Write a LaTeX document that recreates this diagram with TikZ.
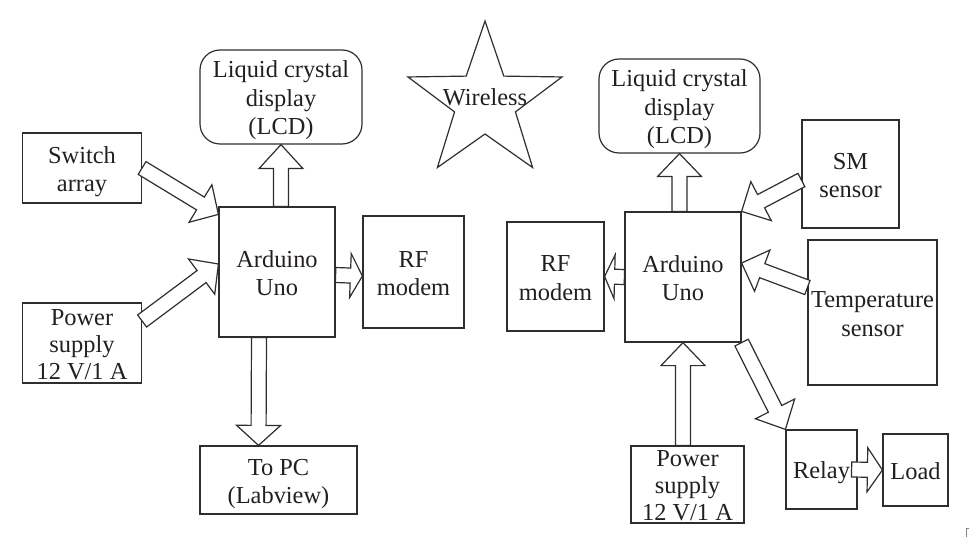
\documentclass[tikz,border=0pt]{standalone}
\usepackage{fontspec}
\setmainfont{Liberation Serif}
\usetikzlibrary{calc}

\definecolor{ink}{HTML}{2E2E2E}
\definecolor{txt}{HTML}{231F20}

% stacked lines, sitting a little below the box centre
\newcommand{\boxlines}[1]{\raisebox{-10pt}[0pt][0pt]{\begin{tabular}{@{}c@{}}#1\end{tabular}}}

% hollow block arrow: [head length]{from}{to}
\newcommand{\fatarrow}[3][22pt]{%
  \path (#2) coordinate (fa-s) (#3) coordinate (fa-e);
  \path ($(fa-e)!#1!(fa-s)$) coordinate (fa-h);
  \draw[fat] ($(fa-s)!7.5pt!90:(fa-e)$) -- ($(fa-h)!7.5pt!-90:(fa-s)$)
    -- ($(fa-h)!22pt!-90:(fa-s)$) -- (fa-e) -- ($(fa-h)!22pt!90:(fa-s)$)
    -- ($(fa-h)!7.5pt!90:(fa-s)$) -- ($(fa-s)!7.5pt!-90:(fa-e)$) -- cycle;
}

\tikzset{
  box/.style={draw=ink, line width=1.2pt, inner sep=0pt, text=txt},
  lcd/.style={box, rounded corners=20pt},
  supply/.style={box, execute at begin node={\def\arraystretch{0.95}}},
  fat/.style={draw=ink, fill=white, line width=1.2pt, line join=miter}
}

\begin{document}
\begin{tikzpicture}[x=1pt, y=-1pt, font=\fontsize{24.4}{28.5}\selectfont]
        \useasboundingbox (0,0) rectangle (969,537);

        % left board
        \node[box, minimum width=116pt, minimum height=130pt] (ard1) at (277,272) {\boxlines{Arduino\\Uno}};
        \node[lcd, minimum width=162pt, minimum height=94pt] (lcd1) at (281,97) {\boxlines{Liquid crystal\\display\\(LCD)}};
        \node[box, minimum width=119pt, minimum height=70pt] (sw) at (82,168) {\boxlines{Switch\\array}};
        \node[supply, minimum width=119pt, minimum height=80pt] (pwr1) at (82,343) {\boxlines{Power\\supply\\12 V/1 A}};
        \node[box, minimum width=101pt, minimum height=112pt] (rf1) at (413.5,272) {\boxlines{RF\\modem}};
        \node[box, minimum width=157pt, minimum height=68pt] (pc) at (278.5,480) {\boxlines{To PC\\(Labview)}};

        \fatarrow[24pt]{ard1.north -| lcd1.south}{lcd1.south}
        \fatarrow[12pt]{[yshift=-3pt]ard1.east}{[yshift=-4pt]rf1.west}
        \fatarrow[20pt]{[xshift=-18pt]ard1.south}{[xshift=-20pt]pc.north}
        \fatarrow[21pt]{sw.east}{[yshift=-8pt]ard1.north west}
        \fatarrow[21pt]{[yshift=22pt]pwr1.east}{[yshift=8pt]ard1.west}

        % wireless link
        \draw[draw=ink, line width=1.2pt, shift={(485,102)}] (90:81pt)
          \foreach \i in {0,...,4} {-- (126+72*\i:32pt) -- (162+72*\i:81pt)} -- cycle;
        \node[text=txt] (wl) at (485,97) {Wireless};

        % right board
        \node[box, minimum width=116pt, minimum height=130pt] (ard2) at (683,277) {\boxlines{Arduino\\Uno}};
        \node[lcd, minimum width=161pt, minimum height=94pt] (lcd2) at (679.5,106) {\boxlines{Liquid crystal\\display\\(LCD)}};
        \node[box, minimum width=97pt, minimum height=109pt] (rf2) at (555.5,276.5) {\boxlines{RF\\modem}};
        \node[box, minimum width=97pt, minimum height=108pt] (sm) at (850.5,174) {\boxlines{SM\\sensor}};
        \node[box, minimum width=129pt, minimum height=145pt] (temp) at (872.5,312.5) {\boxlines{Temperature\\sensor}};
        \node[supply, minimum width=113pt, minimum height=77pt] (pwr2) at (687.5,484.5) {\boxlines{Power\\supply\\12 V/1 A}};
        \node[box, minimum width=71pt, minimum height=79pt] (relay) at (821.5,469.5) {\boxlines{Relay}};
        \node[box, minimum width=65pt, minimum height=72pt] (load) at (915.5,470) {\boxlines{Load}};

        \fatarrow[23pt]{ard2.north -| lcd2.south}{lcd2.south}
        \fatarrow[10pt]{ard2.west}{rf2.east}
        \fatarrow[22pt]{[yshift=-6pt]sm.west}{ard2.north east}
        \fatarrow[22pt]{[yshift=25pt]temp.west}{[yshift=14pt]ard2.east}
        \fatarrow[23pt]{pwr2.north -| ard2.south}{ard2.south}
        \fatarrow[23pt]{ard2.south east}{relay.north west}
        \fatarrow[15pt]{[xshift=-6pt]relay.east}{load.west}

        \draw[ink!60, line width=0.6pt] (966,537) |- (969,528);
      \end{tikzpicture}
\end{document}
